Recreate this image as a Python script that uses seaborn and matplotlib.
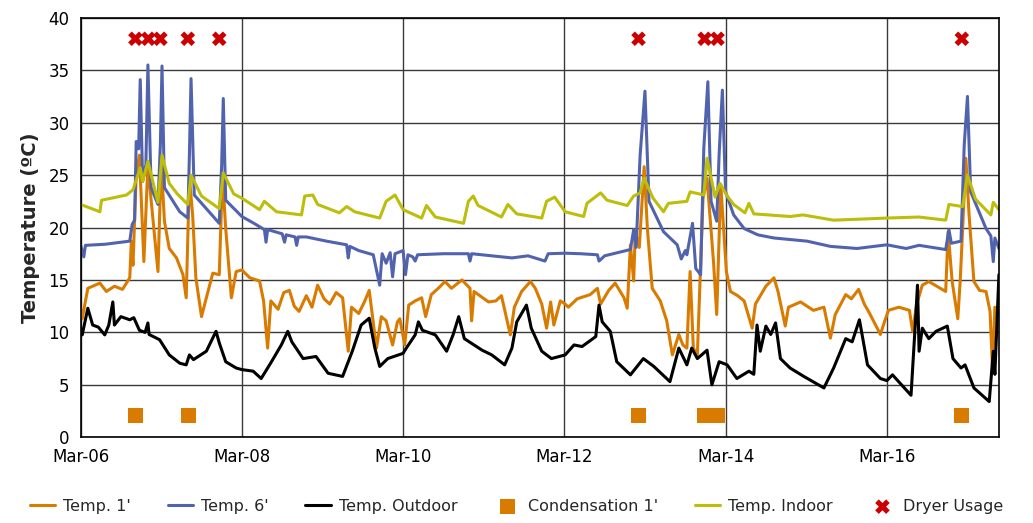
import pandas as pd
import seaborn as sns
import matplotlib.pyplot as plt
import matplotlib.dates as mdates

# Time is given in days after Mar-06 00:00, values in deg C
start = pd.Timestamp("2015-03-06")

t1_days = [0.00, 0.02, 0.09, 0.24, 0.32, 0.42, 0.52, 0.61, 0.63, 0.65, 0.69, 0.73, 0.785, 0.835,
           0.875, 0.96, 1.00, 1.04, 1.10, 1.19, 1.27, 1.31, 1.35, 1.39, 1.43, 1.50, 1.56, 1.64,
           1.72, 1.76, 1.80, 1.87, 1.93, 2.00, 2.10, 2.22, 2.27, 2.32, 2.36, 2.45, 2.52, 2.59,
           2.65, 2.71, 2.80, 2.87, 2.94, 3.02, 3.09, 3.17, 3.25, 3.32, 3.36, 3.45, 3.52, 3.58,
           3.67, 3.73, 3.79, 3.87, 3.93, 3.96, 4.02, 4.07, 4.15, 4.23, 4.28, 4.35, 4.45, 4.52,
           4.60, 4.73, 4.83, 4.85, 4.88, 4.97, 5.06, 5.15, 5.22, 5.33, 5.38, 5.47, 5.58, 5.64,
           5.72, 5.78, 5.83, 5.87, 5.95, 6.01, 6.05, 6.16, 6.32, 6.41, 6.45, 6.55, 6.63, 6.74,
           6.78, 6.82, 6.86, 6.88, 6.93, 6.99, 7.03, 7.09, 7.19, 7.27, 7.34, 7.42, 7.47, 7.52,
           7.56, 7.60, 7.65, 7.72, 7.77, 7.85, 7.89, 7.94, 8.01, 8.06, 8.15, 8.23, 8.33, 8.37,
           8.50, 8.60, 8.65, 8.74, 8.78, 8.93, 9.09, 9.22, 9.30, 9.36, 9.49, 9.56, 9.65, 9.72,
           9.78, 9.92, 9.97, 10.02, 10.15, 10.28, 10.32, 10.37, 10.44, 10.52, 10.73, 10.76,
           10.81, 10.88, 10.91, 10.98, 11.02, 11.08, 11.15, 11.23, 11.28, 11.31, 11.34, 11.39]
t1_vals = [12.3, 11.3, 14.2, 14.7, 13.9, 14.4, 14.1, 15.2, 18.7, 16.4, 25.0, 26.9, 16.75, 26.0,
           22.6, 15.8, 26.3, 20.6, 18.0, 17.1, 15.5, 13.3, 24.7, 21.2, 15.2, 11.5, 13.3, 15.65,
           15.5, 25.0, 19.9, 13.3, 15.8, 15.95, 15.2, 14.9, 13.0, 8.5, 13.0, 12.2, 13.8, 14.0,
           12.5, 12.0, 13.5, 12.4, 14.5, 13.2, 12.7, 13.8, 13.3, 8.2, 12.4, 11.8, 12.9, 14.0,
           8.5, 11.5, 11.1, 8.8, 11.0, 11.3, 8.8, 12.6, 13.0, 13.3, 11.5, 13.6, 14.3, 14.85,
           14.2, 15.0, 14.2, 11.1, 13.9, 13.4, 12.9, 13.0, 13.5, 9.76, 12.4, 13.9, 14.85, 14.2,
           12.7, 10.4, 12.9, 10.7, 13.0, 12.7, 12.4, 13.2, 13.6, 14.2, 12.7, 14.0, 14.7, 13.3,
           12.3, 18.35, 14.9, 19.6, 18.1, 25.8, 19.9, 14.2, 13.0, 11.1, 7.85, 9.8, 8.8, 8.5,
           15.8, 8.5, 7.85, 22.8, 24.7, 16.75, 11.7, 24.1, 15.8, 13.9, 13.5, 13.0, 10.4, 12.7,
           14.4, 15.2, 13.9, 10.6, 12.4, 12.9, 12.1, 12.4, 9.45, 11.7, 13.6, 13.2, 14.1, 12.7,
           11.9, 9.8, 11.0, 12.1, 12.4, 12.1, 10.1, 12.7, 14.5, 14.85, 13.9, 19.6,
           14.85, 11.3, 14.9, 26.6, 21.2, 14.85, 14.0, 13.9, 12.0, 6.6, 12.4, 11.7]

t6_days = [0.00, 0.04, 0.06, 0.30, 0.61, 0.64, 0.67, 0.69, 0.72, 0.74, 0.77, 0.81, 0.835, 0.875,
           0.96, 0.99, 1.01, 1.04, 1.23, 1.33, 1.35, 1.37, 1.41, 1.72, 1.75, 1.77, 1.80, 2.00,
           2.15, 2.28, 2.30, 2.32, 2.50, 2.53, 2.55, 2.66, 2.68, 2.70, 2.80, 3.05, 3.30, 3.32,
           3.34, 3.45, 3.63, 3.71, 3.74, 3.79, 3.84, 3.87, 3.90, 4.00, 4.03, 4.06, 4.12, 4.15,
           4.18, 4.50, 4.81, 4.83, 4.85, 5.10, 5.35, 5.55, 5.76, 5.80, 6.01, 6.20, 6.41, 6.43,
           6.50, 6.82, 6.86, 6.89, 6.94, 7.00, 7.05, 7.23, 7.40, 7.45, 7.50, 7.52, 7.59, 7.63,
           7.69, 7.73, 7.78, 7.82, 7.89, 7.92, 7.96, 8.00, 8.10, 8.23, 8.40, 8.60, 9.01, 9.30,
           9.63, 10.00, 10.24, 10.40, 10.73, 10.77, 10.80, 10.92, 10.96, 11.00, 11.04, 11.23,
           11.29, 11.32, 11.34, 11.39]
t6_vals = [18.35, 17.2, 18.3, 18.4, 18.7, 20.3, 20.7, 28.2, 27.5, 34.1, 24.4, 26.0, 35.5, 23.8,
           22.2, 28.0, 35.4, 23.8, 21.5, 20.9, 27.0, 34.2, 23.1, 20.4, 26.0, 32.3, 22.6, 21.05,
           20.4, 19.8, 18.6, 19.8, 19.4, 18.6, 19.3, 19.1, 18.3, 19.1, 19.1, 18.7, 18.35, 17.1,
           18.2, 17.8, 17.4, 14.5, 17.5, 16.6, 17.6, 15.3, 17.5, 17.8, 15.5, 17.4, 17.2, 16.8,
           17.4, 17.5, 17.5, 16.8, 17.5, 17.3, 17.1, 17.3, 16.8, 17.5, 17.55, 17.5, 17.4, 16.8,
           17.3, 17.9, 19.8, 18.1, 26.9, 33.0, 22.5, 19.6, 18.35, 17.0, 17.8, 17.4, 20.4, 16.1,
           15.5, 27.6, 33.9, 22.5, 20.6, 27.0, 33.1, 23.4, 21.2, 19.9, 19.3, 19.0, 18.7, 18.2,
           18.0, 18.35, 18.0, 18.3, 17.9, 19.8, 18.5, 18.7, 27.9, 32.5, 23.4, 19.9,
           19.2, 16.75, 19.0, 18.0]

out_days = [0.00, 0.02, 0.09, 0.15, 0.22, 0.30, 0.35, 0.40, 0.42, 0.50, 0.61, 0.66, 0.73, 0.80,
            0.835, 0.85, 0.98, 1.10, 1.23, 1.31, 1.35, 1.40, 1.56, 1.68, 1.72, 1.80, 1.93, 2.00,
            2.14, 2.24, 2.36, 2.49, 2.57, 2.62, 2.76, 2.92, 3.07, 3.25, 3.37, 3.48, 3.58, 3.65,
            3.71, 3.81, 4.00, 4.04, 4.15, 4.19, 4.24, 4.40, 4.54, 4.62, 4.69, 4.76, 4.98, 5.10,
            5.26, 5.35, 5.41, 5.53, 5.59, 5.72, 5.84, 6.01, 6.12, 6.22, 6.39, 6.43, 6.47, 6.57,
            6.65, 6.82, 6.98, 7.11, 7.31, 7.42, 7.52, 7.58, 7.65, 7.77, 7.83, 7.92, 8.02, 8.14,
            8.29, 8.35, 8.39, 8.43, 8.50, 8.56, 8.62, 8.68, 8.80, 8.97, 9.22, 9.34, 9.49, 9.57,
            9.66, 9.76, 9.92, 10.00, 10.07, 10.30, 10.36, 10.38, 10.40, 10.44, 10.52, 10.61,
            10.75, 10.82, 10.92, 10.97, 11.08, 11.27, 11.32, 11.34, 11.39]
out_vals = [10.4, 9.76, 12.3, 10.7, 10.5, 9.76, 10.7, 12.9, 10.7, 11.5, 11.2, 11.4, 10.2, 10.0,
            10.9, 9.8, 9.3, 7.85, 7.06, 6.9, 7.85, 7.4, 8.2, 10.1, 9.0, 7.2, 6.6, 6.45,
            6.3, 5.6, 7.1, 8.8, 10.1, 9.1, 7.5, 7.7, 6.1, 5.8, 8.2, 10.7, 11.35, 8.5,
            6.75, 7.5, 8.0, 8.5, 9.76, 11.0, 10.2, 9.76, 8.2, 9.76, 11.5, 9.4, 8.3, 7.85,
            6.9, 8.5, 11.0, 12.6, 10.4, 8.2, 7.5, 7.85, 8.8, 8.65, 9.6, 12.6, 11.0, 10.1,
            7.2, 5.95, 7.5, 6.75, 5.3, 8.5, 6.9, 8.5, 7.5, 8.3, 5.0, 7.2, 6.9, 5.6,
            6.3, 6.0, 10.7, 8.2, 10.6, 9.8, 10.9, 7.5, 6.6, 5.8, 4.7, 6.6, 9.4, 9.1,
            11.2, 6.9, 5.6, 5.4, 5.95, 4.0, 11.7, 14.5, 8.2, 10.4, 9.4, 10.1,
            10.6, 7.5, 6.6, 6.9, 4.7, 3.4, 8.2, 6.0, 15.5]

ind_days = [0.00, 0.24, 0.26, 0.57, 0.65, 0.74, 0.77, 0.835, 0.96, 1.01, 1.10, 1.20, 1.33, 1.37,
            1.50, 1.72, 1.77, 1.90, 2.00, 2.22, 2.28, 2.43, 2.74, 2.78, 2.88, 2.94, 3.21, 3.30,
            3.40, 3.71, 3.79, 3.90, 4.00, 4.23, 4.29, 4.40, 4.75, 4.81, 4.87, 4.93, 5.22, 5.30,
            5.41, 5.72, 5.78, 5.88, 6.01, 6.24, 6.28, 6.45, 6.53, 6.78, 6.86, 6.94, 6.99, 7.10,
            7.23, 7.29, 7.52, 7.56, 7.73, 7.77, 7.87, 7.93, 8.02, 8.10, 8.24, 8.29, 8.35, 8.80,
            8.96, 9.34, 10.00, 10.40, 10.73, 10.77, 10.94, 11.00, 11.10, 11.29, 11.32, 11.39]
ind_vals = [22.2, 21.5, 22.6, 23.1, 23.6, 25.7, 24.4, 26.3, 22.4, 26.9, 24.2, 23.2, 22.2, 25.0,
            23.0, 21.8, 25.2, 23.2, 22.8, 21.7, 22.5, 21.5, 21.2, 23.0, 23.1, 22.2, 21.4, 22.0,
            21.5, 20.9, 22.5, 23.1, 21.7, 20.9, 22.1, 21.0, 20.4, 22.5, 23.0, 22.1, 21.0, 22.2,
            21.3, 20.9, 22.5, 22.9, 21.5, 21.05, 22.3, 23.3, 22.6, 22.1, 23.0, 23.3, 24.7, 22.8,
            21.5, 22.3, 22.5, 23.4, 23.1, 26.6, 22.9, 24.2, 23.0, 22.2, 21.4, 22.3, 21.3, 21.05,
            21.2, 20.7, 20.9, 21.0, 20.7, 22.2, 22.0, 25.0, 22.7, 21.2, 22.4, 21.7]

cond_days = [0.68, 1.34, 6.92, 7.74, 7.90, 10.93]
cond_vals = [2.1, 2.1, 2.1, 2.1, 2.1, 2.1]
dryer_days = [0.68, 0.84, 0.99, 1.33, 1.72, 6.92, 7.74, 7.90, 10.93]
dryer_vals = [38, 38, 38, 38, 38, 38, 38, 38, 38]


def to_frame(days, vals):
    return pd.DataFrame({"time": start + pd.to_timedelta(days, unit="D"), "temp": vals})


sns.set_theme(style="white")
plt.rcParams["font.family"] = ["DejaVu Sans"]

fig, ax = plt.subplots(figsize=(10.33, 5.23), dpi=100)
fig.subplots_adjust(left=0.078, right=0.967, top=0.966, bottom=0.164)

lw = 2.2
sns.lineplot(data=to_frame(t1_days, t1_vals), x="time", y="temp", ax=ax, color="#D97B00",
             lw=lw, estimator=None, sort=False, label="Temp. 1'")
sns.lineplot(data=to_frame(t6_days, t6_vals), x="time", y="temp", ax=ax, color="#5263AE",
             lw=lw, estimator=None, sort=False, label="Temp. 6'")
sns.lineplot(data=to_frame(out_days, out_vals), x="time", y="temp", ax=ax, color="black",
             lw=lw, estimator=None, sort=False, label="Temp. Outdoor")
sns.scatterplot(data=to_frame(cond_days, cond_vals), x="time", y="temp", ax=ax, marker="s",
                s=115, color="#D97B00", edgecolor="none", label="Condensation 1'", zorder=4)
sns.lineplot(data=to_frame(ind_days, ind_vals), x="time", y="temp", ax=ax, color="#BDBD0C",
             lw=lw, estimator=None, sort=False, label="Temp. Indoor")
sns.scatterplot(data=to_frame(dryer_days, dryer_vals), x="time", y="temp", ax=ax, marker="X",
                s=110, color="#CC0000", edgecolor="none", label="Dryer Usage", zorder=4)

ax.set_xlim(start, start + pd.Timedelta(days=11.39))
ax.set_ylim(0, 40)
ax.set_yticks(range(0, 41, 5))
ax.xaxis.set_major_locator(mdates.DayLocator(interval=2))
ax.xaxis.set_major_formatter(mdates.DateFormatter("%b-%d"))
ax.grid(True, which="major", axis="both", color="#3a3a3a", lw=1)
ax.set_axisbelow(True)
for s in ax.spines.values():
    s.set_color("black")
    s.set_linewidth(1.2)
ax.tick_params(length=0, labelsize=12, colors="black", pad=8)
ax.set_xlabel("")
ax.set_ylabel("Temperature (ºC)", fontsize=14, fontweight="bold", labelpad=6)

handles, labels = ax.get_legend_handles_labels()
ax.legend_.remove()
fig.legend(handles, labels, loc="lower center", ncol=6, frameon=False, fontsize=11.5,
           bbox_to_anchor=(0.5, -0.01), handlelength=1.6, columnspacing=2.3, handletextpad=0.5)

fig.savefig("out.png", dpi=100)
